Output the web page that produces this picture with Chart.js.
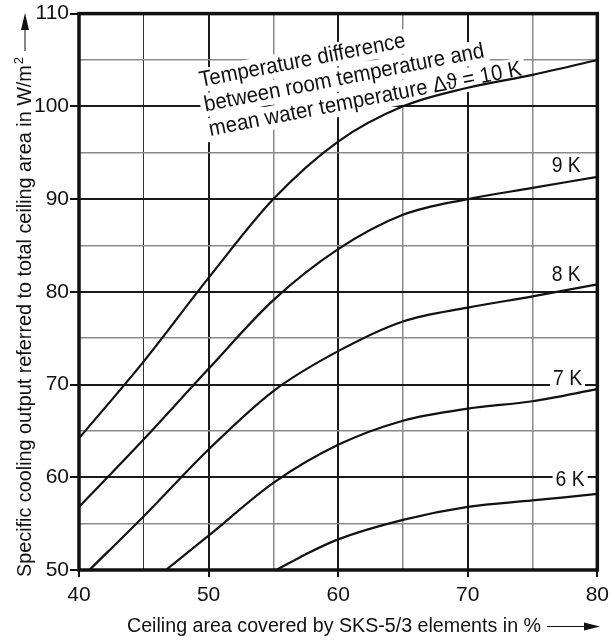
<!DOCTYPE html>
<html>
<head>
<meta charset="utf-8">
<script src="https://cdn.jsdelivr.net/npm/chart.js@4.4.1/dist/chart.umd.min.js"></script>
<style>
  html, body { margin: 0; padding: 0; background: #fff; }
  canvas { display: block; }
</style>
</head>
<body>
<canvas id="chart" width="615" height="641"></canvas>
<script>
// ceiling coverage in % (x) vs cooling output in W/m2 (y), one curve per temperature difference
const x10 = [40, 45, 50, 55, 60, 65, 70, 75, 80];
const y10 = [64.2, 72.5, 81.5, 90.0, 96.2, 100.0, 102.0, 103.4, 105.0];
const x9 = [40, 45, 50, 55, 60, 65, 70, 75, 80];
const y9 = [56.8, 64.1, 71.7, 79.1, 84.6, 88.3, 90.0, 91.2, 92.4];
const x8 = [40.8, 45, 50, 55, 60, 65, 70, 75, 80];
const y8 = [50, 55.8, 63.0, 69.3, 73.6, 76.8, 78.3, 79.5, 80.8];
const x7 = [46.7, 50, 55, 60, 65, 70, 75, 80];
const y7 = [50, 53.7, 59.4, 63.5, 66.1, 67.4, 68.2, 69.5];
const x6 = [55.2, 56.3, 57.5, 60, 65, 70, 75, 80];
const y6 = [50, 50.8, 51.7, 53.3, 55.4, 56.8, 57.5, 58.2];

const curveLabels = ['10 K', '9 K', '8 K', '7 K', '6 K'];
const xTicks = [40, 50, 60, 70, 80];
const yTicks = [50, 60, 70, 80, 90, 100, 110];

const xTitle = 'Ceiling area covered by SKS-5/3 elements in %';
const yTitle = 'Specific cooling output referred to total ceiling area in W/m';
const bigLabel = ['Temperature difference', 'between room temperature and', 'mean water temperature \u0394\u03D1 = 10 K'];

const FONT = '"Liberation Sans", Arial, sans-serif';

function pts(xs, ys) {
  return xs.map((x, i) => ({ x: x, y: ys[i] }));
}

function isMajor(c) {
  return c.tick && c.tick.value % 10 === 0;
}

// text squeezed horizontally to mimic the condensed face of the original
function squeezed(ctx, text, x, y, k) {
  ctx.save();
  ctx.translate(x, y);
  ctx.scale(k, 1);
  ctx.fillText(text, 0, 0);
  ctx.restore();
}

const sets = [[x10, y10], [x9, y9], [x8, y8], [x7, y7], [x6, y6]].map((s, i) => ({
  label: curveLabels[i],
  data: pts(s[0], s[1]),
  borderColor: '#111',
  borderWidth: 2.2,
  pointRadius: 0,
  fill: false,
  cubicInterpolationMode: 'monotone'
}));

const decor = {
  id: 'decor',
  beforeDatasetsDraw(chart) {
    const ctx = chart.ctx;
    const xs = chart.scales.x, ys = chart.scales.y;
    ctx.save();
    ctx.font = '22px ' + FONT;
    ctx.textBaseline = 'alphabetic';
    ctx.textAlign = 'left';

    // rotated 10 K caption
    const k = 318 / ctx.measureText(bigLabel[2]).width;
    ctx.save();
    ctx.translate(xs.getPixelForValue(49.4), ys.getPixelForValue(102.1));
    ctx.rotate(-11 * Math.PI / 180);
    bigLabel.forEach((t, i) => {
      const w = ctx.measureText(t).width * k;
      ctx.fillStyle = '#fff';
      ctx.fillRect(-4, i * 25 - 18, w + 8, 24);
    });
    ctx.fillStyle = '#111';
    bigLabel.forEach((t, i) => squeezed(ctx, t, 0, i * 25, k));
    ctx.restore();

    // small curve labels at right
    ctx.font = '22px ' + FONT;
    ctx.textBaseline = 'middle';
    const small = [[1, 77.6, 93.6, false], [2, 77.6, 81.8, false], [3, 77.7, 70.6, true], [4, 77.9, 59.7, true]];
    small.forEach(s => {
      const px = xs.getPixelForValue(s[1]);
      const py = ys.getPixelForValue(s[2]);
      const t = curveLabels[s[0]];
      const w = ctx.measureText(t).width * 0.88;
      if (s[3]) {
        ctx.fillStyle = '#fff';
        ctx.fillRect(px - w / 2 - 3, py - 9, w + 6, 17);
      }
      ctx.fillStyle = '#111';
      squeezed(ctx, t, px - w / 2, py, 0.88);
    });
    ctx.restore();
  },
  afterDraw(chart) {
    const ctx = chart.ctx;
    const a = chart.chartArea;
    ctx.save();
    // thick frame
    ctx.strokeStyle = '#111';
    ctx.lineWidth = 3.5;
    ctx.strokeRect(a.left, a.top, a.right - a.left, a.bottom - a.top);

    ctx.fillStyle = '#111';
    ctx.font = '20px ' + FONT;
    ctx.textBaseline = 'alphabetic';
    ctx.textAlign = 'left';

    // x title with arrow
    const kx = 414 / ctx.measureText(xTitle).width;
    squeezed(ctx, xTitle, 127, 632, kx);
    ctx.lineWidth = 1;
    ctx.beginPath();
    ctx.moveTo(547, 626.5);
    ctx.lineTo(586, 626.5);
    ctx.stroke();
    ctx.beginPath();
    ctx.moveTo(600, 626.5);
    ctx.lineTo(584, 622.5);
    ctx.lineTo(584, 630.5);
    ctx.closePath();
    ctx.fill();

    // y title, rotated, with superscript and arrow
    ctx.save();
    ctx.translate(31, 577);
    ctx.rotate(-Math.PI / 2);
    const wMain = ctx.measureText(yTitle).width;
    ctx.font = '13px ' + FONT;
    const wSup = ctx.measureText('2').width;
    const ky = 520 / (wMain + wSup + 1);
    ctx.font = '20px ' + FONT;
    squeezed(ctx, yTitle, 0, 0, ky);
    ctx.font = '13px ' + FONT;
    squeezed(ctx, '2', (wMain + 1) * ky, -8, ky);
    ctx.beginPath();
    ctx.moveTo(526, -6);
    ctx.lineTo(549, -6);
    ctx.stroke();
    ctx.beginPath();
    ctx.moveTo(564, -6);
    ctx.lineTo(547, -10);
    ctx.lineTo(547, -2);
    ctx.closePath();
    ctx.fill();
    ctx.restore();
    ctx.restore();
  }
};

new Chart(document.getElementById('chart'), {
  type: 'line',
  data: { datasets: sets },
  plugins: [decor],
  options: {
    responsive: false,
    animation: false,
    devicePixelRatio: 1,
    layout: { padding: { left: 0, top: 13, right: 11, bottom: 0 } },
    plugins: { legend: { display: false }, tooltip: { enabled: false } },
    scales: {
      x: {
        type: 'linear',
        min: 40,
        max: 80,
        afterFit: s => { s.height = 71; },
        border: { display: false },
        grid: {
          color: c => isMajor(c) ? '#1a1a1a' : (c.tick && c.tick.value === 45 ? '#333' : '#8a8a8a'),
          lineWidth: c => isMajor(c) ? 2 : (c.tick && c.tick.value === 45 ? 1 : 1.5),
          tickLength: 7,
          tickWidth: 2,
          tickColor: c => isMajor(c) ? '#111' : 'rgba(0,0,0,0)'
        },
        ticks: {
          stepSize: 5,
          autoSkip: false,
          maxRotation: 0,
          padding: 6,
          color: '#111',
          font: { family: FONT, size: 21 },
          callback: v => xTicks.includes(v) ? String(v) : ''
        }
      },
      y: {
        min: 50,
        max: 110,
        afterFit: s => { s.width = 79; },
        border: { display: false },
        grid: {
          color: c => isMajor(c) ? '#1a1a1a' : '#8a8a8a',
          lineWidth: c => isMajor(c) ? 2 : 1.5,
          tickLength: 9,
          tickWidth: 2,
          tickColor: c => isMajor(c) ? '#111' : 'rgba(0,0,0,0)'
        },
        ticks: {
          stepSize: 5,
          autoSkip: false,
          padding: 1,
          color: '#111',
          font: { family: FONT, size: 21 },
          callback: v => yTicks.includes(v) ? String(v) : ''
        }
      }
    }
  }
});
</script>
</body>
</html>
